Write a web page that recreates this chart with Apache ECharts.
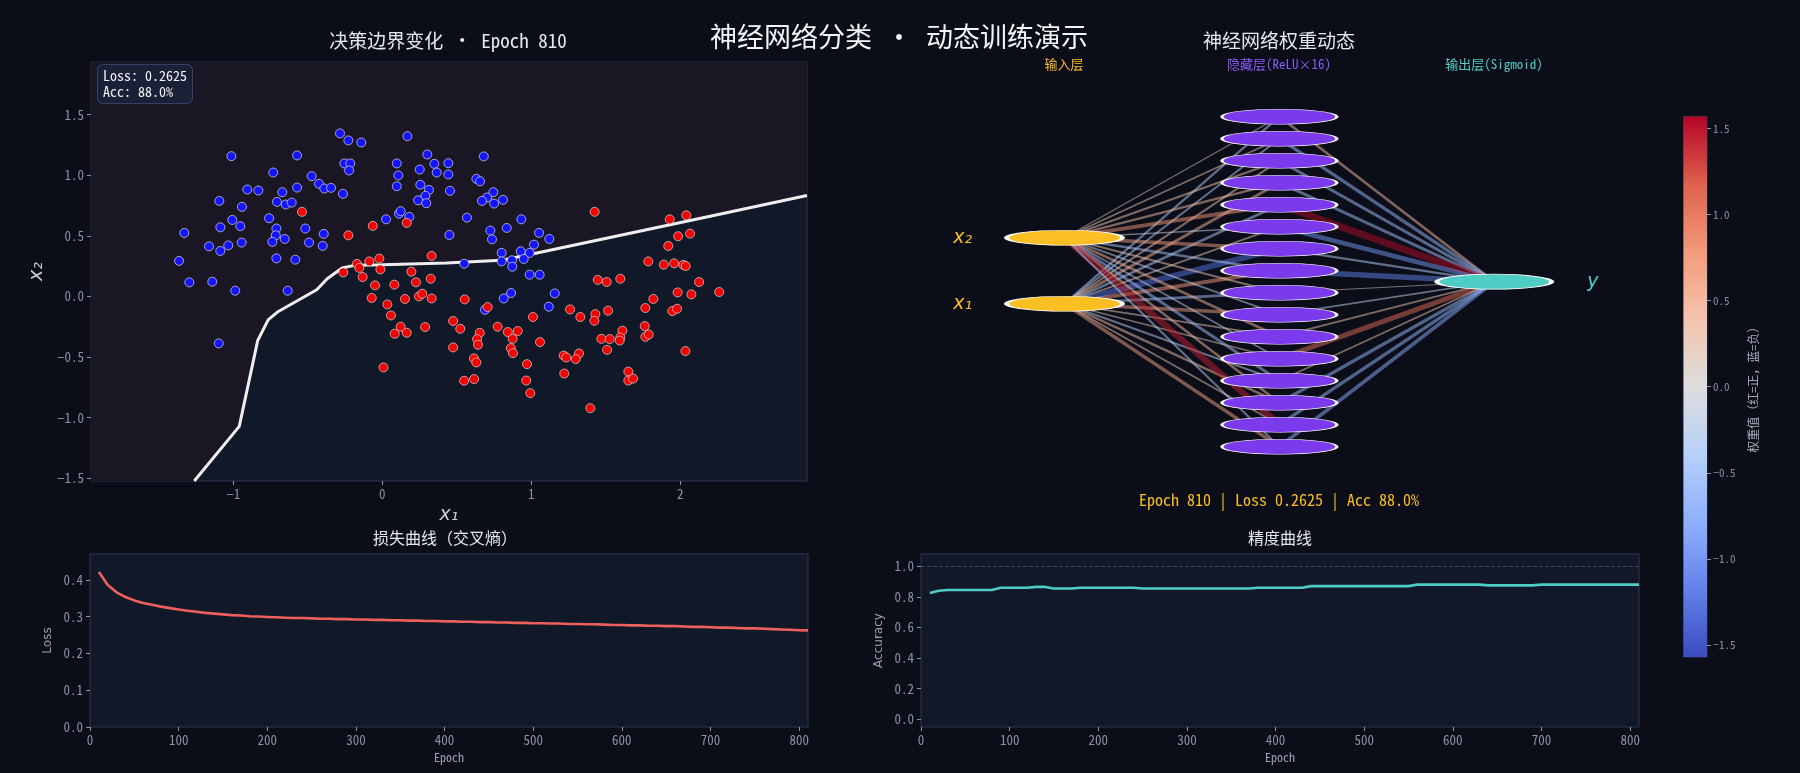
<!DOCTYPE html>
<html>
<head>
<meta charset="utf-8">
<title>神经网络分类 · 动态训练演示</title>
<script src="https://cdn.jsdelivr.net/npm/echarts@6/dist/echarts.min.js"></script>
<style>
html, body { margin: 0; padding: 0; background: #0b0e18; }
#main { width: 1800px; height: 773px; }
</style>
</head>
<body>
<div id="main"></div>
<script>
// 类别 0（蓝）样本点
const bluePoints = [
  [-0.284,1.345],[-0.228,1.287],[-0.141,1.270],[-1.013,1.157],[-0.572,1.163],[-0.732,1.022],[-0.255,1.097],[-0.215,1.097],
  [-0.223,1.039],[0.097,1.097],[0.107,0.998],[0.097,0.909],[-0.474,0.992],[-0.425,0.929],[-0.389,0.890],[-0.344,0.896],
  [-0.264,0.846],[-0.906,0.882],[-0.832,0.874],[-0.671,0.860],[-0.572,0.898],[-1.094,0.788],[-0.942,0.739],[-0.707,0.780],
  [-0.648,0.758],[-0.608,0.774],[-0.760,0.645],[-1.007,0.631],[-1.087,0.570],[-0.953,0.579],[-0.711,0.560],[-0.517,0.560],
  [-1.329,0.524],[-0.715,0.504],[-0.655,0.474],[-0.738,0.450],[-0.393,0.516],[-0.492,0.444],[-0.400,0.417],[-1.163,0.413],
  [-1.087,0.375],[-1.034,0.421],[-0.944,0.444],[-1.364,0.293],[-0.711,0.314],[-0.584,0.303],[-1.295,0.116],[-1.141,0.121],
  [-0.987,0.047],[-0.635,0.047],[0.025,0.636],[0.112,0.683],
  [0.168,1.322],[0.302,1.171],[0.349,1.094],[0.443,1.099],[0.681,1.155],[0.251,1.047],[0.365,1.022],[0.443,1.006],
  [0.255,0.921],[0.313,0.879],[0.454,0.871],[0.631,0.970],[0.656,0.950],[0.289,0.830],[0.240,0.793],[0.295,0.769],
  [0.745,0.860],[0.703,0.816],[0.669,0.788],[0.750,0.766],[0.810,0.797],[0.123,0.703],[0.181,0.656],[0.568,0.650],
  [0.933,0.636],[0.450,0.507],[0.725,0.543],[0.736,0.471],[0.835,0.565],[1.052,0.524],[1.121,0.474],[1.018,0.427],
  [0.801,0.359],[0.929,0.372],[0.989,0.359],[0.801,0.289],[0.870,0.298],[0.949,0.309],[0.872,0.245],[0.550,0.270],
  [0.989,0.179],[1.056,0.179],[0.864,0.028],[0.815,-0.017],[1.157,0.025],[1.117,-0.085],[0.689,-0.110],[-1.098,-0.388]
];

// 类别 1（红）样本点
const redPoints = [
  [-0.539,0.698],[-0.228,0.504],[-0.064,0.582],[-0.170,0.268],[-0.087,0.289],[-0.020,0.312],[-0.154,0.235],[-0.013,0.223],
  [-0.262,0.198],[-0.132,0.160],[-0.049,0.091],[0.081,0.097],[-0.071,-0.013],
  [1.425,0.698],[1.929,0.636],[2.040,0.669],[1.985,0.496],[2.065,0.518],[1.919,0.416],[1.785,0.289],[1.889,0.262],
  [1.958,0.273],[2.020,0.260],[2.036,0.251],[2.126,0.119],
  [0.331,0.334],[0.195,0.204],[0.226,0.116],[0.325,0.146],[0.246,0.000],[0.268,0.022],[0.331,-0.017],[0.152,-0.021],
  [0.034,-0.066],[0.553,-0.025],[0.058,-0.157],[0.707,-0.088],
  [0.123,-0.250],[0.083,-0.308],[0.164,-0.300],[0.287,-0.253],[0.475,-0.203],[0.523,-0.267],[0.475,-0.421],[0.774,-0.250],
  [0.842,-0.294],[0.909,-0.286],[0.654,-0.300],[0.636,-0.352],[0.642,-0.399],[0.875,-0.350],[0.862,-0.427],[0.877,-0.468],
  [0.615,-0.512],[0.631,-0.545],[0.971,-0.559],
  [1.011,-0.170],[1.058,-0.377],[1.260,-0.107],[1.329,-0.170],[1.430,-0.146],[1.423,-0.201],[1.515,-0.118],[1.446,0.136],
  [1.506,0.119],[1.597,0.146],[1.611,-0.283],[1.597,-0.339],[1.593,-0.364],[1.470,-0.350],[1.526,-0.352],[1.508,-0.441],
  [1.819,-0.021],[1.765,-0.096],[1.982,0.033],[2.074,0.017],[1.946,-0.121],[1.978,-0.102],[1.761,-0.245],[1.765,-0.333],
  [1.788,-0.314],[2.034,-0.451],[1.217,-0.488],[1.235,-0.504],[1.320,-0.471],[1.298,-0.517],
  [0.164,0.607],
  [0.008,-0.586],[0.549,-0.696],[0.616,-0.682],[0.966,-0.694],[0.993,-0.798],[1.221,-0.636],[1.396,-0.922],[1.651,-0.620],
  [1.651,-0.694],[1.683,-0.678],[2.261,0.036]
];

// 决策边界（p = 0.5 等值线）
const boundaryLine = [
  [-1.262,-1.523],[-0.960,-1.072],[-0.836,-0.363],[-0.765,-0.192],[-0.698,-0.124],[-0.440,0.055],[-0.370,0.146],
  [-0.270,0.235],[-0.180,0.258],[0.000,0.262],[0.430,0.276],[0.800,0.298],[0.990,0.345],[2.200,0.661],[2.850,0.832]
];

// 训练曲线（每 10 个 epoch 记录一次，从 epoch 10 开始）
const lossValues = [
  0.421,0.386,0.366,0.353,0.344,0.337,0.332,0.327,0.323,0.319,
  0.316,0.313,0.310,0.308,0.306,0.304,0.303,0.301,0.300,0.299,
  0.298,0.297,0.296,0.296,0.295,0.294,0.294,0.293,0.293,0.292,
  0.292,0.291,0.291,0.290,0.290,0.289,0.289,0.288,0.288,0.287,
  0.287,0.286,0.286,0.285,0.285,0.284,0.284,0.283,0.283,0.282,
  0.282,0.281,0.281,0.280,0.280,0.279,0.279,0.278,0.277,0.277,
  0.276,0.276,0.275,0.275,0.274,0.274,0.273,0.272,0.272,0.271,
  0.270,0.270,0.269,0.268,0.268,0.267,0.266,0.265,0.264,0.263,
  0.2625
];
const accValues = [
  0.825,0.840,0.845,0.845,0.845,0.845,0.845,0.845,0.860,0.860,
  0.860,0.860,0.865,0.865,0.855,0.855,0.855,0.860,0.860,0.860,
  0.860,0.860,0.860,0.860,0.855,0.855,0.855,0.855,0.855,0.855,
  0.855,0.855,0.855,0.855,0.855,0.855,0.855,0.860,0.860,0.860,
  0.860,0.860,0.860,0.870,0.870,0.870,0.870,0.870,0.870,0.870,
  0.870,0.870,0.870,0.870,0.870,0.880,0.880,0.880,0.880,0.880,
  0.880,0.880,0.880,0.875,0.875,0.875,0.875,0.875,0.875,0.880,
  0.880,0.880,0.880,0.880,0.880,0.880,0.880,0.880,0.880,0.880,
  0.880
];

// 网络权重：输入 -> 隐藏（16），隐藏 -> 输出
const weightsX1 = [-0.45,-0.35,0.35,0.55,-0.5,0.3,-1.3,0.8,-0.55,0.75,0.3,0.25,-0.35,0.45,0.3,0.7];
const weightsX2 = [0.15,0.3,0.35,0.45,0.8,-0.2,0.75,-0.5,0.35,-0.3,0.55,-0.3,-0.6,0.5,1.45,-0.4];
const weightsOut = [0.5,-0.7,-0.6,-0.6,1.55,-1.0,-0.4,-1.2,0.1,-0.3,0.3,1.1,0.3,-0.7,-0.7,-0.8];

// 刻度
const scatterXTicks = [-1, 0, 1, 2];
const scatterYTicks = [-1.5, -1.0, -0.5, 0.0, 0.5, 1.0, 1.5];
const epochTicks = [0, 100, 200, 300, 400, 500, 600, 700, 800];
const lossTicks = [0.0, 0.1, 0.2, 0.3, 0.4];
const accTicks = [0.0, 0.2, 0.4, 0.6, 0.8, 1.0];
const colorbarTicks = [-1.5, -1.0, -0.5, 0.0, 0.5, 1.0, 1.5];
const cbMin = -1.57, cbMax = 1.57;

const FONT = '"Noto Sans Mono CJK SC", "DejaVu Sans Mono", "Noto Sans CJK SC", monospace';
const TICK_COLOR = '#8b92a6';
const FRAME = '#2b3654';

function fmt(v, d) {
  return (v < 0 ? '\u2212' : '') + Math.abs(v).toFixed(d);
}

// coolwarm 色表
const coolwarm = ['#3b4cc0','#6282ea','#8db0fe','#b8d0f9','#dddddd','#f5c4ad','#f49a7b','#de604d','#b40426'];
function hexToRgb(h) {
  return [parseInt(h.slice(1,3),16), parseInt(h.slice(3,5),16), parseInt(h.slice(5,7),16)];
}
function weightColor(w) {
  let t = (w - cbMin) / (cbMax - cbMin);
  t = Math.max(0, Math.min(1, t));
  const pos = t * (coolwarm.length - 1);
  const i = Math.min(coolwarm.length - 2, Math.floor(pos));
  const f = pos - i;
  const a = hexToRgb(coolwarm[i]), b = hexToRgb(coolwarm[i + 1]);
  const c = a.map((v, k) => Math.round(v + (b[k] - v) * f));
  return 'rgb(' + c.join(',') + ')';
}

const epochs = lossValues.map((_, i) => (i + 1) * 10);
const lossData = epochs.map((e, i) => [e, lossValues[i]]);
const accData = epochs.map((e, i) => [e, accValues[i]]);

const xMin = -1.955, xMax = 2.85, yMin = -1.523, yMax = 1.934;
const upperRegion = [[xMin, yMin], [boundaryLine[0][0], yMin]].concat(boundaryLine);

// 网络布局（x: 层序号，y: 纵向位置，0 在上）
const hiddenY = weightsOut.map((_, i) => i);
const inputY = [8.5, 5.5];   // x1, x2
const outputY = 7.5;
const edges = [];
[weightsX1, weightsX2].forEach((ws, k) => {
  ws.forEach((w, j) => {
    edges.push({ coords: [[0, inputY[k]], [1, hiddenY[j]]], w: w });
  });
});
weightsOut.forEach((w, j) => {
  edges.push({ coords: [[1, hiddenY[j]], [2, outputY]], w: w });
});
const edgeData = edges.map(e => ({
  coords: e.coords,
  lineStyle: { color: weightColor(e.w), width: 0.6 + 4 * Math.abs(e.w), opacity: 0.5 }
}));

const ELLIPSE = 'path://M50,0A50,50,0,1,1,50,100A50,50,0,1,1,50,0Z';

function valueAxis(extra) {
  return Object.assign({
    type: 'value',
    splitLine: { show: false },
    axisLine: { show: false, onZero: false },
    axisTick: { show: true, length: 4, lineStyle: { color: TICK_COLOR } },
    axisLabel: { color: TICK_COLOR, fontSize: 13, fontFamily: FONT, margin: 7 }
  }, extra);
}
function ticks(values) {
  return { show: true, length: 4, lineStyle: { color: TICK_COLOR }, customValues: values };
}
function labels(values, d, size) {
  return { color: TICK_COLOR, fontSize: size || 13, fontFamily: FONT, margin: size ? 6 : 7, customValues: values,
    formatter: d === null ? undefined : (v => fmt(v, d)) };
}
function text(x, y, str, color, size) {
  return { type: 'text', x: x, y: y,
    style: { text: str, fill: color, fontSize: size, fontFamily: FONT, align: 'center', verticalAlign: 'middle' } };
}

const chart = echarts.init(document.getElementById('main'));
chart.setOption({
  backgroundColor: '#0b0e18',
  animation: false,
  textStyle: { fontFamily: FONT },
  graphic: [
    text(899, 37, '神经网络分类 · 动态训练演示', '#f3f4f6', 27),
    text(448, 41, '决策边界变化 · Epoch 810', '#e5e7eb', 19),
    text(1279, 41, '神经网络权重动态', '#e5e7eb', 19),
    text(1064, 64, '输入层', '#fbbf24', 13),
    text(1279, 64, '隐藏层(ReLU×16)', '#8b5cf6', 13),
    text(1494, 64, '输出层(Sigmoid)', '#4ecdc4', 13),
    text(1279, 500, 'Epoch 810 | Loss 0.2625 | Acc 88.0%', '#fbbf24', 16),
    text(445, 538, '损失曲线（交叉熵）', '#e5e7eb', 16),
    text(1280, 538, '精度曲线', '#e5e7eb', 16),
    { type: 'text', x: 98, y: 65, z: 10, style: {
        text: 'Loss: 0.2625\nAcc: 88.0%', fill: '#f3f4f6', fontSize: 14, lineHeight: 16, fontFamily: FONT,
        backgroundColor: '#1a2137', borderColor: '#34406a', borderWidth: 1, borderRadius: 5, padding: [3, 5, 3, 5] } }
  ],
  grid: [
    { left: 91, top: 62, width: 716, height: 419, show: true, backgroundColor: '#111827', borderColor: FRAME, borderWidth: 1 },
    { left: 90, top: 554, width: 718, height: 173, show: true, backgroundColor: '#111827', borderColor: FRAME, borderWidth: 1 },
    { left: 921, top: 554, width: 718, height: 173, show: true, backgroundColor: '#111827', borderColor: FRAME, borderWidth: 1 },
    { left: 1064.5, top: 116.7, width: 429.8, height: 330, show: false },
    { left: 1683.5, top: 116.4, width: 23.5, height: 540.6, show: true, borderColor: FRAME, borderWidth: 1 }
  ],
  xAxis: [
    valueAxis({ gridIndex: 0, min: xMin, max: xMax,
      axisTick: ticks(scatterXTicks), axisLabel: labels(scatterXTicks, 0),
      name: 'x\u2081', nameLocation: 'middle', nameGap: 25,
      nameTextStyle: { color: '#c9ceda', fontSize: 19, fontStyle: 'italic', fontFamily: 'DejaVu Sans' } }),
    valueAxis({ gridIndex: 1, min: 0, max: 810,
      axisTick: ticks(epochTicks), axisLabel: labels(epochTicks, null),
      name: 'Epoch', nameLocation: 'middle', nameGap: 24,
      nameTextStyle: { color: '#9aa1b3', fontSize: 12, fontFamily: FONT } }),
    valueAxis({ gridIndex: 2, min: 0, max: 810,
      axisTick: ticks(epochTicks), axisLabel: labels(epochTicks, null),
      name: 'Epoch', nameLocation: 'middle', nameGap: 24,
      nameTextStyle: { color: '#9aa1b3', fontSize: 12, fontFamily: FONT } }),
    { type: 'value', gridIndex: 3, min: 0, max: 2, show: false },
    { type: 'value', gridIndex: 4, min: 0, max: 1, show: false }
  ],
  yAxis: [
    valueAxis({ gridIndex: 0, min: yMin, max: yMax,
      axisTick: ticks(scatterYTicks), axisLabel: labels(scatterYTicks, 1),
      name: 'x\u2082', nameLocation: 'middle', nameGap: 44, nameRotate: 90,
      nameTextStyle: { color: '#c9ceda', fontSize: 19, fontStyle: 'italic', fontFamily: 'DejaVu Sans' } }),
    valueAxis({ gridIndex: 1, min: 0, max: 0.47,
      axisTick: ticks(lossTicks), axisLabel: labels(lossTicks, 1),
      name: 'Loss', nameLocation: 'middle', nameGap: 36, nameRotate: 90,
      nameTextStyle: { color: '#9aa1b3', fontSize: 12, fontFamily: 'DejaVu Sans' } }),
    valueAxis({ gridIndex: 2, min: -0.05, max: 1.08,
      axisTick: ticks(accTicks), axisLabel: labels(accTicks, 1),
      name: 'Accuracy', nameLocation: 'middle', nameGap: 36, nameRotate: 90,
      nameTextStyle: { color: '#9aa1b3', fontSize: 12, fontFamily: 'DejaVu Sans' } }),
    { type: 'value', gridIndex: 3, min: 0, max: 15, inverse: true, show: false },
    valueAxis({ gridIndex: 4, min: cbMin, max: cbMax, position: 'right',
      axisTick: ticks(colorbarTicks), axisLabel: labels(colorbarTicks, 1, 11),
      name: '权重值（红=正，蓝=负）', nameLocation: 'middle', nameGap: 40, nameRotate: 90,
      nameTextStyle: { color: '#a3a9b8', fontSize: 12, fontFamily: FONT } })
  ],
  series: [
    {
      type: 'line', xAxisIndex: 0, yAxisIndex: 0, data: upperRegion, symbol: 'none', silent: true, z: 1,
      lineStyle: { width: 0 }, areaStyle: { color: '#1a1624', opacity: 1, origin: 'end' }
    },
    {
      type: 'line', xAxisIndex: 0, yAxisIndex: 0, data: boundaryLine, symbol: 'none', silent: true, z: 3,
      lineStyle: { color: '#eeeeee', width: 3 }
    },
    {
      type: 'scatter', xAxisIndex: 0, yAxisIndex: 0, data: bluePoints, symbolSize: 9, z: 4,
      itemStyle: { color: '#1414ff', borderColor: '#dcdcdc', borderWidth: 0.7, opacity: 1 }
    },
    {
      type: 'scatter', xAxisIndex: 0, yAxisIndex: 0, data: redPoints, symbolSize: 9, z: 4,
      itemStyle: { color: '#f20000', borderColor: '#dcdcdc', borderWidth: 0.7, opacity: 1 }
    },
    {
      type: 'line', xAxisIndex: 1, yAxisIndex: 1, data: lossData, symbol: 'none',
      lineStyle: { color: '#ee5f5f', width: 2.6 }
    },
    {
      type: 'line', xAxisIndex: 2, yAxisIndex: 2, data: accData, symbol: 'none',
      lineStyle: { color: '#4ecdc4', width: 2.6 },
      markLine: {
        silent: true, symbol: 'none', label: { show: false },
        lineStyle: { color: '#3a4360', type: 'dashed', width: 1 },
        data: [{ yAxis: 1.0 }]
      }
    },
    {
      type: 'lines', coordinateSystem: 'cartesian2d', xAxisIndex: 3, yAxisIndex: 3,
      data: edgeData, silent: true, z: 2
    },
    {
      type: 'scatter', xAxisIndex: 3, yAxisIndex: 3, symbol: ELLIPSE, symbolSize: [116, 15], clip: false, z: 5,
      data: [
        { value: [0, inputY[0]], name: 'x\u2081' },
        { value: [0, inputY[1]], name: 'x\u2082' }
      ],
      itemStyle: { color: '#fbbf24', borderColor: '#ffffff', borderWidth: 1.8, opacity: 1 },
      label: { show: true, position: 'left', distance: 32, formatter: p => p.name,
        color: '#fbbf24', fontSize: 19, fontStyle: 'italic', fontFamily: 'DejaVu Sans' }
    },
    {
      type: 'scatter', xAxisIndex: 3, yAxisIndex: 3, symbol: ELLIPSE, symbolSize: [115, 15], clip: false, z: 5,
      data: hiddenY.map(y => [1, y]),
      itemStyle: { color: '#7c3aed', borderColor: '#ffffff', borderWidth: 1.2, opacity: 1 }
    },
    {
      type: 'scatter', xAxisIndex: 3, yAxisIndex: 3, symbol: ELLIPSE, symbolSize: [115, 15], clip: false, z: 5,
      data: [{ value: [2, outputY], name: 'y' }],
      itemStyle: { color: '#4ecdc4', borderColor: '#ffffff', borderWidth: 1.8, opacity: 1 },
      label: { show: true, position: 'right', distance: 33, formatter: p => p.name,
        color: '#4ecdc4', fontSize: 19, fontStyle: 'italic', fontFamily: 'DejaVu Sans' }
    },
    {
      type: 'custom', xAxisIndex: 4, yAxisIndex: 4, silent: true,
      data: [[0, cbMin, cbMax]],
      renderItem: function (params, api) {
        const p0 = api.coord([0, api.value(2)]);
        const p1 = api.coord([1, api.value(1)]);
        const stops = coolwarm.slice().reverse().map((c, i) => ({ offset: i / (coolwarm.length - 1), color: c }));
        return {
          type: 'rect',
          shape: { x: p0[0], y: p0[1], width: p1[0] - p0[0], height: p1[1] - p0[1] },
          style: { fill: new echarts.graphic.LinearGradient(0, 0, 0, 1, stops) }
        };
      }
    }
  ]
});
</script>
</body>
</html>
